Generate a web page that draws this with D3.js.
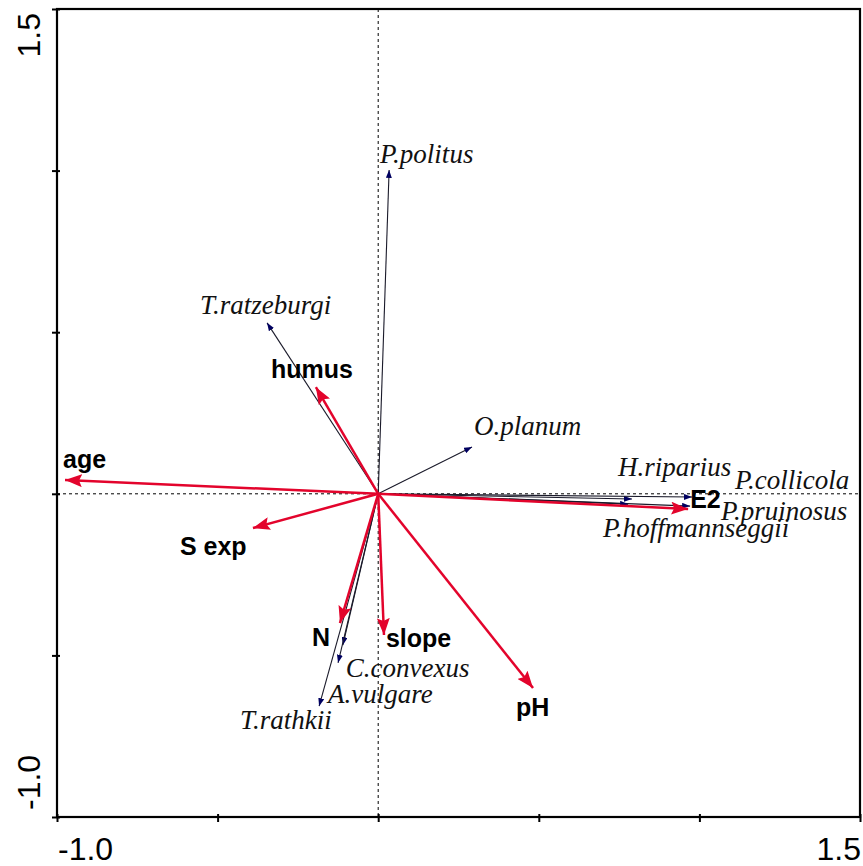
<!DOCTYPE html>
<html><head><meta charset="utf-8">
<script src="https://cdn.jsdelivr.net/npm/d3@7"></script>
<style>html,body{margin:0;padding:0;background:#fff;}svg{display:block;}</style>
</head><body>
<script>
// ---- data (CCA biplot scores) ----
const envNames = ["age", "S exp", "humus", "N", "slope", "pH", "E2"];
const envX = [-0.975, -0.390, -0.194, -0.119, 0.018, 0.482, 0.965];
const envY = [0.043, -0.106, 0.330, -0.400, -0.437, -0.601, -0.047];

const spNames = ["P.politus", "T.ratzeburgi", "O.planum", "H.riparius", "P.collicola",
  "P.pruinosus", "P.hoffmannseggii", "C.convexus", "A.vulgare", "T.rathkii"];
const spX = [0.034, -0.346, 0.292, 0.790, 0.977, 0.971, 0.778, -0.110, -0.125, -0.184];
const spY = [1.002, 0.529, 0.145, -0.016, -0.010, -0.038, -0.032, -0.468, -0.523, -0.657];

const axisMin = -1.0, axisMax = 1.5;
const tickValues = [-1.0, -0.5, 0, 0.5, 1.0, 1.5];
const endLabels = ["-1.0", "1.5"];

// ---- layout (pixel offsets of labels from arrow tips) ----
const envLabelOffset = {"age":[-2,-12],"S exp":[-73,27],"humus":[-45,-9],"N":[-28,23],
  "slope":[2,12],"pH":[-17,28],"E2":[2,-1]};
const spLabelOffset = {"P.politus":[-9,-7],"T.ratzeburgi":[-67,-9],"O.planum":[2,-12],
  "H.riparius":[-14,-23],"P.collicola":[43,-8],"P.pruinosus":[31,14],
  "P.hoffmannseggii":[-25,33],"C.convexus":[3,32],"A.vulgare":[-10,40],"T.rathkii":[-79,23]};

const W = 863, H = 866;
const L = 57, R = 860, T = 9, B = 817;
const RED = "#e3042c", NAVY = "#000060";

const svg = d3.select("body").append("svg").attr("width", W).attr("height", H);
const x = d3.scaleLinear().domain([axisMin, axisMax]).range([L, R]);
const y = d3.scaleLinear().domain([axisMin, axisMax]).range([B, T]);

// markers
const defs = svg.append("defs");
defs.append("marker").attr("id","redhead").attr("viewBox","0 0 17 13")
  .attr("refX",17).attr("refY",6.5).attr("markerWidth",17).attr("markerHeight",13)
  .attr("markerUnits","userSpaceOnUse").attr("orient","auto")
  .append("path").attr("d","M0,0 L17,6.5 L0,13 L3,6.5 Z").attr("fill",RED);
defs.append("marker").attr("id","navyhead").attr("viewBox","0 0 8 6")
  .attr("refX",8).attr("refY",3).attr("markerWidth",8).attr("markerHeight",6)
  .attr("markerUnits","userSpaceOnUse").attr("orient","auto")
  .append("path").attr("d","M0,0 L8,3 L0,6 Z").attr("fill",NAVY);

// dashed zero lines
svg.append("line").attr("x1", x(0)).attr("x2", x(0)).attr("y1", T).attr("y2", B)
  .attr("stroke","#000").attr("stroke-width",1).attr("stroke-dasharray","3,3");
svg.append("line").attr("x1", L).attr("x2", R).attr("y1", y(0)).attr("y2", y(0))
  .attr("stroke","#000").attr("stroke-width",1).attr("stroke-dasharray","3,3");

// axes
const xAxis = d3.axisBottom(x).tickValues(tickValues).tickSizeInner(5).tickSizeOuter(0).tickFormat("");
const gx = svg.append("g").attr("transform",`translate(0,${B})`).call(xAxis);
const yAxis = d3.axisLeft(y).tickValues(tickValues).tickSizeInner(5).tickSizeOuter(0).tickFormat("");
const gy = svg.append("g").attr("transform",`translate(${L},0)`).call(yAxis);
[gx, gy].forEach(g => {
  g.select(".domain").remove();
  g.selectAll(".tick line").attr("stroke","#000").attr("stroke-width",2);
});
gx.selectAll(".tick line").attr("y1",-3);
gy.selectAll(".tick line").attr("x1",3);

// frame
svg.append("rect").attr("x",L).attr("y",T).attr("width",R-L).attr("height",B-T)
  .attr("fill","none").attr("stroke","#000").attr("stroke-width",2.2);

// axis end labels
const axisFont = "'Liberation Sans', Arial, sans-serif";
svg.append("text").attr("x", x(axisMin)+1).attr("y", 860).attr("text-anchor","start")
  .attr("font-family",axisFont).attr("font-size",32).text(endLabels[0]);
svg.append("text").attr("x", x(axisMax)+1).attr("y", 860).attr("text-anchor","end")
  .attr("font-family",axisFont).attr("font-size",32).text(endLabels[1]);
svg.append("text").attr("transform",`translate(40,${y(axisMin)-7}) rotate(-90)`).attr("text-anchor","start")
  .attr("font-family",axisFont).attr("font-size",32).text(endLabels[0]);
svg.append("text").attr("transform",`translate(40,${y(axisMax)+4}) rotate(-90)`).attr("text-anchor","end")
  .attr("font-family",axisFont).attr("font-size",32).text(endLabels[1]);

// species arrows
const sp = spNames.map((n,i)=>({name:n, x:spX[i], y:spY[i]}));
svg.append("g").selectAll("line").data(sp).join("line")
  .attr("x1", x(0)).attr("y1", y(0)).attr("x2", d=>x(d.x)).attr("y2", d=>y(d.y))
  .attr("stroke","#1a1a2a").attr("stroke-width",1.1).attr("marker-end","url(#navyhead)");

// env arrows
const env = envNames.map((n,i)=>({name:n, x:envX[i], y:envY[i]}));
svg.append("g").selectAll("line").data(env).join("line")
  .attr("x1", x(0)).attr("y1", y(0)).attr("x2", d=>x(d.x)).attr("y2", d=>y(d.y))
  .attr("stroke",RED).attr("stroke-width",2.5).attr("marker-end","url(#redhead)");

// species labels
svg.append("g").selectAll("text").data(sp).join("text")
  .attr("x", d=>x(d.x)+spLabelOffset[d.name][0])
  .attr("y", d=>y(d.y)+spLabelOffset[d.name][1])
  .attr("font-family","'Liberation Serif','Times New Roman',serif")
  .attr("font-style","italic").attr("font-size",27).attr("fill","#111")
  .text(d=>d.name);

// env labels
svg.append("g").selectAll("text").data(env).join("text")
  .attr("x", d=>x(d.x)+envLabelOffset[d.name][0])
  .attr("y", d=>y(d.y)+envLabelOffset[d.name][1])
  .attr("font-family",axisFont).attr("font-weight","bold")
  .attr("font-size",25).attr("fill","#000")
  .text(d=>d.name);
</script>
</body></html>
